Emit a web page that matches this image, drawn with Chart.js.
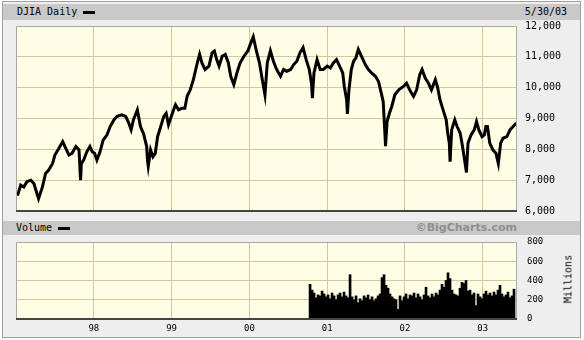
<!DOCTYPE html>
<html>
<head>
<meta charset="utf-8">
<script src="https://cdn.jsdelivr.net/npm/chart.js@4.4.1/dist/chart.umd.min.js"></script>
<style>
  body { margin: 0; background: #fff; font-family: 'DejaVu Sans Mono', monospace; font-size: 10px; color: #000; }
  #frame { position: absolute; left: 2px; top: 1px; width: 577px; height: 335px; border: 1px solid #a0a0a0; background: #eeeeee; }
  .band { position: absolute; left: 3px; width: 577px; background: #c9c9c9; }
  .label { position: absolute; white-space: nowrap; }
  .swatch { display: inline-block; width: 12px; height: 3px; background: #000; margin-left: 6px; vertical-align: middle; }
  .box { position: absolute; left: 16px; }
  canvas { display: block; }
</style>
</head>
<body>
<div id="frame"></div>
<div class="band" style="top:4px;height:16px"></div>
<div class="label" style="left:17px;top:4px;line-height:16px">DJIA Daily<span class="swatch"></span></div>
<div class="label" style="right:17px;top:4px;line-height:16px">5/30/03</div>

<div class="box" style="top:14px"><canvas id="priceChart" width="568" height="203"></canvas></div>

<div class="band" style="top:221px;height:14px"></div>
<div class="label" style="left:16px;top:221px;line-height:14px">Volume<span class="swatch"></span></div>
<div class="label" style="right:67px;top:221px;line-height:14px;font-family:'DejaVu Sans';font-weight:bold;font-size:11px;color:#8e8e8e">©BigCharts.com</div>

<div class="box" style="top:236px"><canvas id="volumeChart" width="568" height="100"></canvas></div>
<div class="label" style="left:568px;top:279px;transform:translate(-50%,-50%) rotate(-90deg)">Millions</div>

<script>
// DJIA daily closes, [decimal year, close]
const dji1997 = [
  [1997.02, 6500], [1997.06, 6840], [1997.10, 6780], [1997.14, 6950], [1997.19, 7000],
  [1997.23, 6890], [1997.27, 6560], [1997.29, 6400], [1997.34, 6780], [1997.38, 7220],
  [1997.42, 7330], [1997.47, 7540], [1997.50, 7815], [1997.55, 8030], [1997.60, 8250],
  [1997.64, 8030], [1997.68, 7815], [1997.72, 7870], [1997.77, 8090], [1997.81, 7980],
  [1997.83, 7000], [1997.84, 7540], [1997.87, 7650], [1997.91, 7920], [1997.95, 8090],
  [1997.98, 7920]
];
const dji1998 = [
  [1998.01, 7870], [1998.04, 7650], [1998.08, 7920], [1998.12, 8300], [1998.17, 8470],
  [1998.21, 8740], [1998.26, 8960], [1998.30, 9070], [1998.36, 9120], [1998.41, 9070],
  [1998.45, 8850], [1998.48, 8630], [1998.51, 8960], [1998.56, 9280], [1998.60, 8740],
  [1998.64, 8500], [1998.68, 8090], [1998.69, 7650], [1998.70, 7450], [1998.73, 7980],
  [1998.76, 7760], [1998.79, 7870], [1998.82, 8410], [1998.86, 8740], [1998.90, 9070],
  [1998.93, 9170], [1998.96, 8800]
];
const dji1999 = [
  [1999.01, 9170], [1999.05, 9450], [1999.09, 9280], [1999.13, 9330], [1999.17, 9330],
  [1999.20, 9720], [1999.24, 9930], [1999.28, 10260], [1999.33, 10800], [1999.36, 11080],
  [1999.39, 10800], [1999.43, 10590], [1999.48, 10700], [1999.52, 11130], [1999.55, 11190],
  [1999.58, 10910], [1999.61, 10700], [1999.65, 11020], [1999.69, 11080], [1999.73, 10800],
  [1999.76, 10370], [1999.80, 10100], [1999.84, 10480], [1999.88, 10800], [1999.93, 11020],
  [1999.98, 11190]
];
const dji2000 = [
  [2000.02, 11460], [2000.05, 11650], [2000.09, 11190], [2000.13, 10800], [2000.17, 10200],
  [2000.20, 9770], [2000.23, 10800], [2000.27, 11200], [2000.31, 10850], [2000.35, 10590],
  [2000.40, 10370], [2000.44, 10590], [2000.48, 10530], [2000.53, 10590], [2000.57, 10750],
  [2000.61, 10860], [2000.65, 11130], [2000.69, 11300], [2000.73, 10910], [2000.77, 10590],
  [2000.80, 10100], [2000.81, 9660], [2000.83, 10480], [2000.87, 10910], [2000.91, 10590],
  [2000.95, 10590]
];
const dji2001 = [
  [2001.00, 10700], [2001.04, 10640], [2001.08, 10800], [2001.12, 10910], [2001.17, 10640],
  [2001.20, 10480], [2001.22, 10040], [2001.25, 9610], [2001.26, 9150], [2001.28, 9930],
  [2001.31, 10590], [2001.34, 10860], [2001.37, 10970], [2001.40, 11240], [2001.44, 11020],
  [2001.49, 10750], [2001.53, 10590], [2001.57, 10480], [2001.62, 10370], [2001.66, 10200],
  [2001.69, 9880], [2001.72, 9550], [2001.74, 8630], [2001.75, 8100], [2001.77, 8900],
  [2001.80, 9170], [2001.83, 9390], [2001.87, 9770], [2001.92, 9930], [2001.98, 10040]
];
const dji2002 = [
  [2002.02, 10150], [2002.07, 9880], [2002.11, 9720], [2002.15, 9930], [2002.19, 10420],
  [2002.22, 10590], [2002.26, 10310], [2002.30, 10150], [2002.34, 9930], [2002.39, 10260],
  [2002.42, 10000], [2002.45, 9610], [2002.49, 9280], [2002.53, 8960], [2002.55, 8520],
  [2002.57, 8200], [2002.58, 7600], [2002.60, 8630], [2002.64, 8960], [2002.67, 8740],
  [2002.71, 8520], [2002.74, 8090], [2002.76, 7760], [2002.78, 7430], [2002.79, 7250],
  [2002.81, 8200], [2002.85, 8470], [2002.89, 8630], [2002.92, 8900], [2002.95, 8630],
  [2002.99, 8410]
];
const dji2003 = [
  [2003.02, 8470], [2003.04, 8740], [2003.06, 8740], [2003.09, 8200], [2003.13, 7980],
  [2003.17, 7870], [2003.20, 7540], [2003.23, 8200], [2003.26, 8360], [2003.31, 8410],
  [2003.35, 8630], [2003.39, 8740], [2003.43, 8850]
];

// NYSE volume (millions), roughly every 2 trading weeks from Oct 2000
const volStart = 2000.78;
const volStep = 0.0257;
const volume = [
  360, 300, 270, 220, 250, 240, 290, 260, 230, 250,
  210, 270, 240, 200, 250, 270, 230, 280, 240, 220,
  460, 230, 200, 240, 170, 210, 190, 240, 220, 250,
  200, 230, 190, 210, 240, 260, 430, 460, 350, 320,
  260, 230, 210, 200, 100, 240, 190, 230, 260, 210,
  250, 240, 270, 220, 260, 230, 200, 250, 330, 240,
  220, 260, 230, 270, 250, 300, 360, 330, 400, 480,
  420, 300, 260, 250, 240, 320, 380, 370, 400, 290,
  300, 250, 270, 140, 260, 230, 210, 260, 290, 250,
  270, 240, 280, 250, 300, 350, 260, 230, 250, 280,
  220, 240, 310
];

// axes
const yearTicks = [1998, 1999, 2000, 2001, 2002, 2003];
const yearLabels = ['98', '99', '00', '01', '02', '03'];
const priceTicks = [6000, 7000, 8000, 9000, 10000, 11000, 12000];
const volumeTicks = [0, 200, 400, 600, 800];

const gridColor = 'rgb(206, 202, 160)';

// cream plot background + frame
const plotFrame = {
  id: 'plotFrame',
  beforeDraw(chart) {
    const { ctx, chartArea: a } = chart;
    ctx.save();
    ctx.fillStyle = '#fffde4';
    ctx.fillRect(a.left, a.top, a.width, a.height);
    ctx.restore();
  },
  afterDraw(chart) {
    const { ctx, chartArea: a } = chart;
    ctx.save();
    ctx.strokeStyle = '#a8a8a8';
    ctx.lineWidth = 1;
    ctx.strokeRect(a.left + 0.5, a.top + 0.5, a.width - 1, a.height - 1);
    ctx.strokeStyle = '#444';
    ctx.lineWidth = 2;
    ctx.beginPath();
    ctx.moveTo(a.left, a.bottom);
    ctx.lineTo(a.right, a.bottom);
    ctx.stroke();
    ctx.restore();
  }
};

const xAxis = (showLabels) => ({
  type: 'linear',
  min: 1997,
  max: 2003.44,
  offset: false,
  afterBuildTicks: (scale) => { scale.ticks = yearTicks.map(v => ({ value: v })); },
  afterFit: (scale) => { scale.height = showLabels ? 17 : 0; },
  grid: { color: gridColor, drawTicks: false, offset: false },
  border: { display: false },
  ticks: {
    display: showLabels,
    padding: 4,
    color: '#000',
    font: { family: 'DejaVu Sans Mono', size: 9 },
    callback: (v) => yearLabels[yearTicks.indexOf(v)]
  }
});

// right value axis; tick marks are invisible, their length pushes the labels out
const yAxis = (min, max, ticks, gap, size, fmt) => ({
  position: 'right',
  min: min,
  max: max,
  afterBuildTicks: (scale) => { scale.ticks = ticks.map(v => ({ value: v })); },
  afterFit: (scale) => { scale.width = 67; },
  grid: { color: gridColor, drawTicks: true, tickLength: gap, tickColor: 'rgba(0,0,0,0)' },
  border: { display: false },
  ticks: {
    padding: 0,
    color: '#000',
    font: { family: 'DejaVu Sans Mono', size: size },
    callback: fmt
  }
});

// price chart
const priceSeries = [].concat(dji1997, dji1998, dji1999, dji2000, dji2001, dji2002, dji2003)
  .map(p => ({ x: p[0], y: p[1] }));

new Chart(document.getElementById('priceChart'), {
  type: 'line',
  data: {
    datasets: [{
      label: 'DJIA Daily',
      data: priceSeries,
      borderColor: '#000',
      borderWidth: 3,
      pointRadius: 0,
      tension: 0
    }]
  },
  options: {
    responsive: false,
    animation: false,
    layout: { padding: { top: 12, bottom: 5, left: 0, right: 0 } },
    plugins: { legend: { display: false }, tooltip: { enabled: false } },
    scales: {
      x: xAxis(false),
      y: yAxis(6000, 12000, priceTicks, 8, 10, (v) => v.toLocaleString('en-US'))
    }
  },
  plugins: [plotFrame]
});

// volume chart
const volumeSeries = volume.map((v, i) => ({ x: volStart + i * volStep, y: v }));

new Chart(document.getElementById('volumeChart'), {
  type: 'bar',
  data: {
    datasets: [{
      label: 'Volume',
      data: volumeSeries,
      backgroundColor: '#000',
      barPercentage: 1,
      categoryPercentage: 1
    }]
  },
  options: {
    responsive: false,
    animation: false,
    layout: { padding: { top: 6, bottom: 0, left: 0, right: 0 } },
    plugins: { legend: { display: false }, tooltip: { enabled: false } },
    scales: {
      x: xAxis(true),
      y: yAxis(0, 800, volumeTicks, 10, 9, (v) => String(v))
    }
  },
  plugins: [plotFrame]
});
</script>
</body>
</html>
